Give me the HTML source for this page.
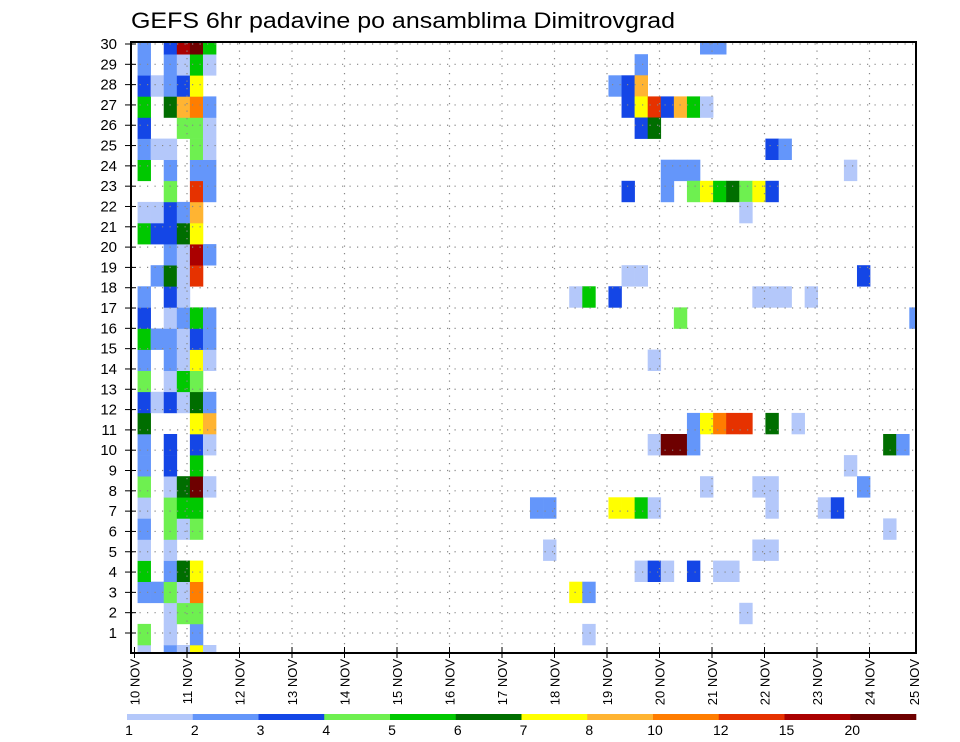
<!DOCTYPE html>
<html><head><meta charset="utf-8"><style>
html,body{margin:0;padding:0;background:#fff;width:960px;height:742px;overflow:hidden}
svg{display:block;font-family:"Liberation Sans",sans-serif}
</style></head><body>
<svg id="chart" width="960" height="742" viewBox="0 0 960 742" xmlns="http://www.w3.org/2000/svg">
<text x="131" y="28" font-size="22" textLength="544" lengthAdjust="spacingAndGlyphs" fill="#000">GEFS 6hr padavine po ansamblima Dimitrovgrad</text>
<defs><clipPath id="plotclip"><rect x="132" y="42" width="784" height="611"/></clipPath></defs>
<g id="cells" clip-path="url(#plotclip)"></g>
<g id="grid"></g>
<rect x="131" y="42" width="785" height="611" fill="none" stroke="#000" stroke-width="2"/>
<g id="yaxis"></g>
<g id="xaxis"></g>
<g id="colorbar"></g>
</svg>
<script>
// ---- data ----
const levelColors = ["#b4c8fa","#6496fa","#1446e6","#6ef050","#00c800","#006e00","#ffff00","#ffb432","#ff7d00","#e63200","#aa0000","#6e0000"];
const colorbarLabels = ["1","2","3","4","5","6","7","8","10","12","15","20"];
const dayLabels = ["10 NOV","11 NOV","12 NOV","13 NOV","14 NOV","15 NOV","16 NOV","17 NOV","18 NOV","19 NOV","20 NOV","21 NOV","22 NOV","23 NOV","24 NOV","25 NOV"];
const memberTicks = [1,2,3,4,5,6,7,8,9,10,11,12,13,14,15,16,17,18,19,20,21,22,23,24,25,26,27,28,29,30];
// first six 6-hour steps for every member (member index 0 = bottom)
const earlySteps = [
 [1,0,2,1,7,1],[4,0,1,0,2,0],[0,0,1,4,4,0],[2,2,4,1,9,0],[5,0,2,6,7,0],
 [1,0,1,0,0,0],[2,0,4,1,4,0],[1,0,4,5,5,0],[4,0,1,6,12,1],[2,0,3,0,5,0],
 [2,0,3,0,3,1],[6,0,0,0,7,8],[3,1,3,1,6,2],[4,0,1,5,4,0],[2,0,2,1,7,1],
 [5,2,2,1,3,2],[3,0,1,2,5,2],[2,0,3,1,0,0],[0,2,6,1,10,0],[0,0,2,1,11,2],
 [5,3,3,6,7,0],[1,1,3,2,8,0],[0,0,4,0,10,2],[5,0,2,0,2,2],[2,1,1,0,4,1],
 [3,0,0,4,4,1],[5,0,6,8,9,2],[3,1,2,3,7,0],[2,0,2,1,5,1],[2,0,3,11,12,5]
];
// later steps: sparse member / step / level
const lateMember = [29,29,28,27,27,27,26,26,26,26,26,26,26,25,25,24,24,23,23,23,23,
 22,22,22,22,22,22,22,22,22,21,18,18,18,17,17,17,17,17,17,17,16,16,14,
 11,11,11,11,11,11,11,10,10,10,10,10,10,9,8,8,8,8,7,7,7,7,7,7,7,7,7,6,5,5,5,
 4,4,4,4,4,4,3,3,2,1];
const lateStep = [44,45,39,37,38,39,38,39,40,41,42,43,44,39,40,49,50,41,42,43,55,
 38,41,43,44,45,46,47,48,49,47,38,39,56,34,35,37,48,49,50,52,42,60,40,
 43,44,45,46,47,49,51,40,41,42,43,58,59,55,44,48,49,56,31,32,37,38,39,40,49,53,54,58,32,48,49,
 39,40,41,43,45,46,34,35,47,35];
const lateLevel = [2,2,2,2,3,8,3,7,10,3,8,5,1,3,6,3,2,2,2,2,1,
 3,2,4,7,5,6,4,7,3,1,1,1,3,1,5,3,1,1,1,1,4,2,1,
 2,7,9,10,10,6,1,1,12,12,2,6,2,1,1,1,1,2,2,2,7,7,5,1,1,1,3,1,1,1,1,
 1,3,1,3,1,1,7,2,1,1];

// ---- scales ----
const NS="http://www.w3.org/2000/svg";
const STEP_W=13.08, CELL_X0=124.5;
const MEM_H=21.1, MEM_Y0=666.1;
function xStep(k){return CELL_X0+k*STEP_W;}
function yMember(j){return MEM_Y0-MEM_H*(j+1);}
const DAY_X0=134.5, DAY_W=52.5;
function xDay(d){return DAY_X0+d*DAY_W;}
const TICK_Y0=44, TICK_DY=20.31;
function yTick(r){return TICK_Y0+(30-r)*TICK_DY;}
function mk(tag,attrs,parent){const e=document.createElementNS(NS,tag);for(const a in attrs)e.setAttribute(a,attrs[a]);parent.appendChild(e);return e;}

const cells=document.getElementById('cells');
function drawCell(j,k,lev){
  if(!lev)return;
  const r=mk('rect',{x:xStep(k),y:yMember(j),width:STEP_W+0.3,height:MEM_H+0.3,fill:levelColors[lev-1]},cells);
  
  
}
earlySteps.forEach((row,j)=>row.forEach((lev,i)=>drawCell(j,i+1,lev)));
lateMember.forEach((j,i)=>drawCell(j,lateStep[i],lateLevel[i]));

// grid
const grid=document.getElementById('grid');
memberTicks.forEach(r=>{
  const y=yTick(r);
  const l=mk('line',{x1:132,x2:915,y1:y,y2:y,stroke:"#888","stroke-width":1.2,"stroke-dasharray":"1.2 6.3"},grid);
  
  
});
dayLabels.forEach((lab,d)=>{
  const x=xDay(d); if(x>915||d===0)return;
  const l=mk('line',{x1:x,x2:x,y1:43,y2:652,stroke:"#888","stroke-width":1.2,"stroke-dasharray":"1.2 6.3"},grid);
  
  
});

// y axis
const ya=document.getElementById('yaxis');
memberTicks.forEach(r=>{
  const y=yTick(r);
  const t=mk('line',{x1:125,x2:136,y1:y,y2:y,stroke:"#000","stroke-width":1},ya);
  
  
  const tx=mk('text',{x:117,y:y+5,"font-size":15,"text-anchor":"end",fill:"#000"},ya);
  tx.textContent=r;
  
  
});

// x axis
const xa=document.getElementById('xaxis');
dayLabels.forEach((lab,d)=>{
  let x=xDay(d);
  if(x<916){
    const t=mk('line',{x1:x,x2:x,y1:647,y2:658,stroke:"#000","stroke-width":1},xa);
    
    
  } else x=914;
  const tx=mk('text',{x:0,y:0,"font-size":13,"text-anchor":"end",fill:"#000",transform:"translate("+(x+5)+",659) rotate(-90)"},xa);
  tx.textContent=lab;
  
  
});

// colorbar
const cb=document.getElementById('colorbar');
const CB_X0=127, CB_W=65.75;
levelColors.forEach((c,i)=>{
  const r=mk('rect',{x:CB_X0+i*CB_W,y:714,width:CB_W+0.3,height:6,fill:c},cb);
  
  
});
colorbarLabels.forEach((lab,i)=>{
  const tx=mk('text',{x:CB_X0+i*CB_W+2,y:735,"font-size":14,"text-anchor":"middle",fill:"#000"},cb);
  tx.textContent=lab;
  
  
});
</script>
</body></html>
